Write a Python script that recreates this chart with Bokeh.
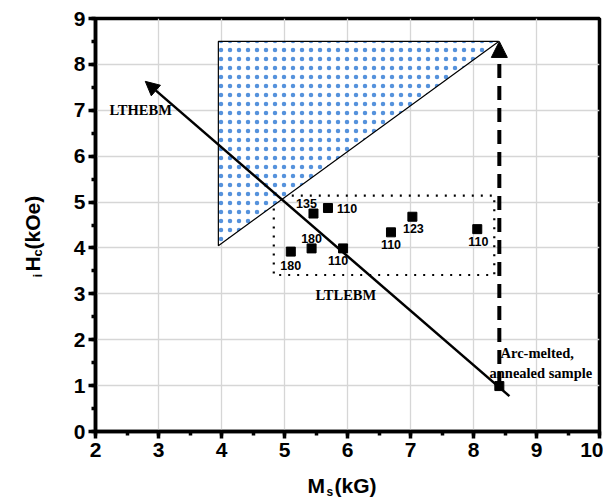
import math
from bokeh.plotting import figure
from bokeh.models import (Range1d, SingleIntervalTicker, Arrow, NormalHead,
                          Label, LabelSet, ColumnDataSource)
from bokeh.core.properties import value
from bokeh.embed import file_html
from bokeh.resources import INLINE

# ---- data ----
sample_ms = [5.10, 5.43, 5.46, 5.69, 5.93, 6.69, 7.03, 8.06]
sample_hc = [3.92, 3.99, 4.75, 4.87, 3.99, 4.34, 4.68, 4.41]
sample_temp = ["180", "180", "135", "110", "110", "110", "123", "110"]

arc_ms = [8.41]
arc_hc = [0.99]

tri_ms = [3.95, 3.95, 8.40]
tri_hc = [4.05, 8.50, 8.50]

box_ms = [4.83, 8.33]
box_hc = [3.41, 5.14]

lthebm_ms = [8.57, 2.79]
lthebm_hc = [0.77, 7.63]

arrow_top_hc = 8.50

x_ticks = [2, 3, 4, 5, 6, 7, 8, 9, 10]
y_ticks = [0, 1, 2, 3, 4, 5, 6, 7, 8, 9]

# ---- layout helpers (pixel -> data for text placement) ----
FL, FT, FW, FH = 96, 19, 504, 413
def dx(px):
    return 2 + (px - FL) * 8 / FW
def dy(py):
    return (FT + FH - py) * 9 / FH

p = figure(frame_width=FW, frame_height=FH, min_border_left=FL - 1, min_border_top=FT - 1,
           min_border_right=4, min_border_bottom=66,
           x_range=Range1d(2, 10), y_range=Range1d(0, 9),
           output_backend="svg", toolbar_location=None, tools="")
p.background_fill_color = "white"
p.border_fill_color = "white"
p.outline_line_color = "black"
p.outline_line_width = 3.5

for ax in (p.xaxis, p.yaxis):
    ax.ticker = SingleIntervalTicker(interval=1, num_minor_ticks=2)
    ax.axis_line_width = 3.5
    ax.major_tick_line_width = 3.5
    ax.minor_tick_line_width = 3.5
    ax.major_tick_out = 7
    ax.major_tick_in = 0
    ax.minor_tick_out = 4
    ax.minor_tick_in = 0
    ax.major_label_text_font = "Liberation Sans"
    ax.major_label_text_font_style = "bold"
    ax.major_label_text_font_size = "21px"
    ax.major_label_text_color = "black"
    ax.axis_label = None
p.xaxis.major_label_standoff = 4
p.yaxis.major_label_standoff = 3

p.xgrid.ticker = SingleIntervalTicker(interval=1)
p.ygrid.ticker = SingleIntervalTicker(interval=1)
p.grid.grid_line_color = "#d6d6d6"
p.grid.grid_line_width = 1.3

# dotted rectangle (LTLEBM region)
p.quad(left=box_ms[0], right=box_ms[1], bottom=box_hc[0], top=box_hc[1],
       fill_alpha=0, line_color="black", line_width=2.2, line_dash="2 7")

# hatched triangle (LTHEBM region)
p.patch(tri_ms, tri_hc, fill_color="white", line_color="black", line_width=1.2,
        hatch_pattern="dot", hatch_color="#5592dc", hatch_scale=9, hatch_weight=0.5)

# LTHEBM/LTLEBM line with arrowhead
p.add_layout(Arrow(x_start=lthebm_ms[0], y_start=lthebm_hc[0],
                   x_end=lthebm_ms[1], y_end=lthebm_hc[1],
                   line_color="black", line_width=2.5,
                   end=NormalHead(size=14, fill_color="black", line_color="black", line_width=1)))

# dashed vertical arrow from arc-melted sample
p.add_layout(Arrow(x_start=arc_ms[0], y_start=arc_hc[0], x_end=arc_ms[0], y_end=arrow_top_hc,
                   line_color="black", line_width=4, line_dash="14 8",
                   end=NormalHead(size=16, fill_color="black", line_color="black", line_width=1)))

# sample points
p.scatter(sample_ms, sample_hc, marker="square", size=9, color="black")
p.scatter(arc_ms, arc_hc, marker="square", size=9, color="black")

# sample labels
x_off = [0, 0, -7, 9, -5, 0, 1, 1]
y_off = [-14, 10, 10, 0, -12, -12, -12, -12]
align = ["center", "center", "center", "left", "center", "center", "center", "center"]
src = ColumnDataSource(dict(x=sample_ms, y=sample_hc, t=sample_temp, xo=x_off, yo=y_off, al=align))
p.add_layout(LabelSet(x="x", y="y", text="t", source=src, x_offset="xo", y_offset="yo",
                      text_align="al", text_baseline="middle",
                      text_font=value("Liberation Sans"), text_font_style="bold",
                      text_font_size="12.5px", text_color="black"))

serif = dict(text_font="Liberation Serif", text_font_style="bold", text_font_size="14.5px",
             text_color="black", text_baseline="middle")
p.add_layout(Label(x=dx(110), y=dy(110), text="LTHEBM", **serif))
p.add_layout(Label(x=dx(316), y=dy(295), text="LTLEBM", **serif))
p.add_layout(Label(x=dx(501), y=dy(353), text="Arc-melted,", **serif))
p.add_layout(Label(x=dx(490), y=dy(373), text="annealed sample", **serif))

# axis titles with subscripts (placed in the bottom side panel so they are not
# clipped to the frame and do not widen the left border)
ax_font = dict(text_font="Liberation Sans", text_font_style="bold", text_color="black",
               text_baseline="alphabetic", text_align="left")
p.add_layout(Label(x=dx(308), y=dy(486), text="M", text_font_size="21px", **ax_font), "below")
p.add_layout(Label(x=dx(327), y=dy(492), text="s", text_font_size="12px", **ax_font), "below")
p.add_layout(Label(x=dx(335), y=dy(486), text="(kG)", text_font_size="21px", **ax_font), "below")
rot = math.pi / 2
p.add_layout(Label(x=dx(38), y=dy(278), text="i", angle=rot, text_font_size="13px", **ax_font), "below")
p.add_layout(Label(x=dx(33), y=dy(272), text="H", angle=rot, text_font_size="21px", **ax_font), "below")
p.add_layout(Label(x=dx(38), y=dy(257), text="c", angle=rot, text_font_size="13px", **ax_font), "below")
p.add_layout(Label(x=dx(33), y=dy(250), text="(kOe)", angle=rot, text_font_size="21px", **ax_font), "below")

open("out.html", "w").write(file_html(p, INLINE))
